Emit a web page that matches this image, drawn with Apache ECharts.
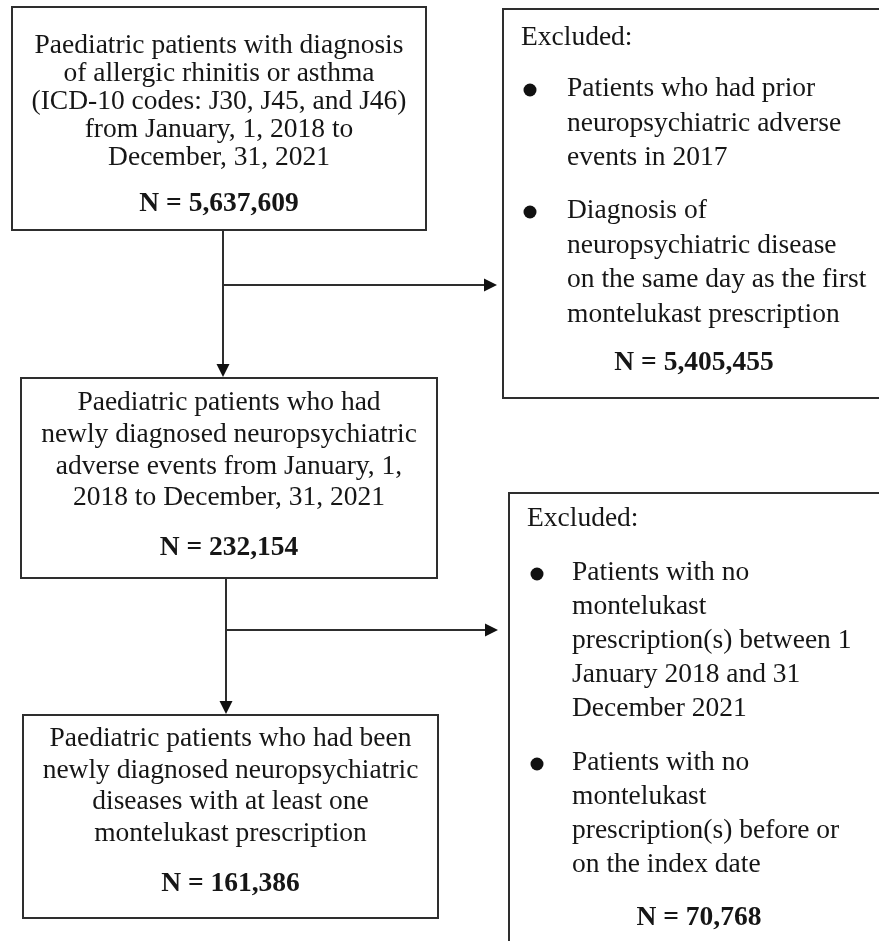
<!DOCTYPE html>
<html>
<head>
<meta charset="utf-8">
<script src="https://cdn.jsdelivr.net/npm/echarts@6/dist/echarts.min.js"></script>
<style>
html,body{margin:0;padding:0;background:#fff;}
#main{width:879px;height:941px;}
</style>
</head>
<body>
<div id="main"></div>
<script>
// ---- Flowchart content ----
const box1Lines = ['Paediatric patients with diagnosis', 'of allergic rhinitis or asthma', '(ICD-10 codes: J30, J45, and J46)', 'from January, 1, 2018 to', 'December, 31, 2021'];
const box3Lines = ['Paediatric patients who had', 'newly diagnosed neuropsychiatric', 'adverse events from January, 1,', '2018 to December, 31, 2021'];
const box5Lines = ['Paediatric patients who had been', 'newly diagnosed neuropsychiatric', 'diseases with at least one', 'montelukast prescription'];
const excl1Bullets = [
  ['Patients who had prior', 'neuropsychiatric adverse', 'events in 2017'],
  ['Diagnosis of', 'neuropsychiatric disease', 'on the same day as the first', 'montelukast prescription']
];
const excl2Bullets = [
  ['Patients with no', 'montelukast', 'prescription(s) between 1', 'January 2018 and 31', 'December 2021'],
  ['Patients with no', 'montelukast', 'prescription(s) before or', 'on the index date']
];
const excludedLabel = 'Excluded:';
const counts = ['5,637,609', '5,405,455', '232,154', '70,768', '161,386'];

// ---- Layout / style ----
const FONT = '27.5px "Liberation Serif", "Times New Roman", serif';
const BFONT = 'bold 27.5px "Liberation Serif", "Times New Roman", serif';
const TXT = '#161616';
const LINE = '#2e2e2e';
const MID = 9; // baseline -> middle offset

const g = [];
function rect(x, y, w, h) {
  g.push({type: 'rect', shape: {x: x, y: y, width: w, height: h},
    style: {fill: '#fff', stroke: LINE, lineWidth: 2}, z: 1});
}
function text(s, x, baseline, font, align) {
  g.push({type: 'text', z: 3, style: {text: s, x: x, y: baseline - MID, font: font,
    fill: TXT, textAlign: align, textVerticalAlign: 'middle'}});
}
function line(x1, y1, x2, y2) {
  g.push({type: 'line', z: 2, shape: {x1: x1, y1: y1, x2: x2, y2: y2},
    style: {stroke: LINE, lineWidth: 2}});
}
function arrowHead(x, y, dir) {
  const L = 13, W = 6.5;
  let pts;
  if (dir === 'down') pts = [[x, y], [x - W, y - L], [x + W, y - L]];
  else pts = [[x, y], [x - L, y - W], [x - L, y + W]];
  g.push({type: 'polygon', z: 2, shape: {points: pts}, style: {fill: '#111'}});
}
function bullet(x, y) {
  g.push({type: 'circle', z: 3, shape: {cx: x, cy: y, r: 6.5}, style: {fill: '#111'}});
}
function centeredBox(x, y, w, h, lines, firstBase, step, nBase, count) {
  rect(x, y, w, h);
  const cx = x + w / 2;
  lines.forEach((s, i) => text(s, cx, firstBase + i * step, FONT, 'center'));
  text('N = ' + count, cx, nBase, BFONT, 'center');
}
function exclBox(x, y, w, h, labelBase, bullets, starts, step, bulletX, textX, nX, nBase, count) {
  rect(x, y, w, h);
  text(excludedLabel, x + 18, labelBase, FONT, 'left');
  bullets.forEach((b, bi) => {
    bullet(bulletX, starts[bi] - 8);
    b.forEach((s, i) => text(s, textX, starts[bi] + i * step, FONT, 'left'));
  });
  text('N = ' + count, nX, nBase, BFONT, 'center');
}

// Boxes
centeredBox(12, 7, 414, 223, box1Lines, 55, 28, 213, counts[0]);
exclBox(503, 9, 400, 389, 47, excl1Bullets, [98, 220], 34.5, 530, 567, 694, 372, counts[1]);
centeredBox(21, 378, 416, 200, box3Lines, 412, 31.7, 557, counts[2]);
exclBox(509, 493, 400, 480, 528, excl2Bullets, [582, 772], 34, 537, 572, 699, 927, counts[3]);
centeredBox(23, 715, 415, 203, box5Lines, 748, 31.5, 893, counts[4]);

// Connectors
line(223, 231, 223, 366); arrowHead(223, 377, 'down');
line(223, 285, 486, 285); arrowHead(497, 285, 'right');
line(226, 579, 226, 702); arrowHead(226, 714, 'down');
line(226, 630, 487, 630); arrowHead(498, 630, 'right');

const chart = echarts.init(document.getElementById('main'), null, {renderer: 'canvas'});
chart.setOption({
  backgroundColor: '#ffffff',
  animation: false,
  graphic: {elements: g}
});
</script>
</body>
</html>
